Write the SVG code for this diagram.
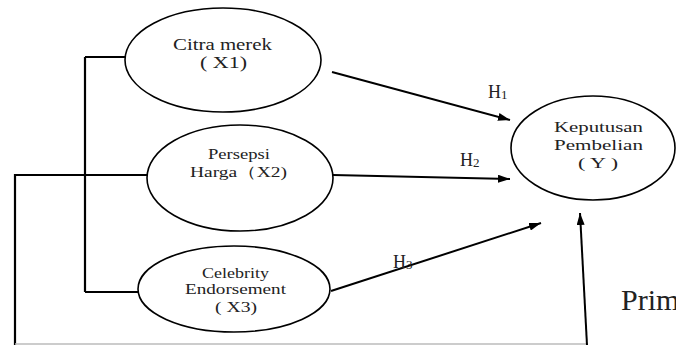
<svg xmlns="http://www.w3.org/2000/svg" width="676" height="345" viewBox="0 0 676 345">
<defs>
<marker id="ah" viewBox="0 0 12 8" refX="12" refY="4" markerWidth="12" markerHeight="8" markerUnits="userSpaceOnUse" orient="auto">
<path d="M0,0 L12,4 L0,8 Z" fill="#000"/>
</marker>
<style>
.el{fill:#fff;stroke:#000;stroke-width:1.6}
.ln{fill:none;stroke:#000;stroke-width:2.2}
.ar{fill:none;stroke:#000;stroke-width:2;marker-end:url(#ah)}
.t{font-family:"Liberation Serif","Times New Roman",serif;fill:#222;text-anchor:start}
</style>
</defs>
<rect width="676" height="345" fill="#fff"/>
<g id="connectors">
<path class="ln" d="M85,57 V292 M85,57 H126 M85,175 H147 M85,292 H139"/>
<path class="ln" d="M15,345 V175 H85"/>
<line x1="15" y1="344" x2="588" y2="344" stroke="#bbb" stroke-width="1.5"/>
<line class="ar" x1="332" y1="72" x2="510" y2="120"/>
<line class="ar" x1="333" y1="175" x2="510" y2="179"/>
<line class="ar" x1="331" y1="291" x2="541" y2="223"/>
<line class="ar" x1="587" y1="345" x2="580" y2="213"/>
</g>
<g id="x1">
<ellipse class="el" cx="223" cy="60" rx="98" ry="52"/>
<text class="t" x="173" y="50" font-size="17" textLength="99" lengthAdjust="spacingAndGlyphs">Citra merek</text>
<text class="t" x="200" y="68" font-size="17" textLength="47" lengthAdjust="spacingAndGlyphs">( X1)</text>
</g>
<g id="x2">
<ellipse class="el" cx="240" cy="178" rx="93" ry="53"/>
<text class="t" x="208" y="159" font-size="15" textLength="62" lengthAdjust="spacingAndGlyphs">Persepsi</text>
<text class="t" x="190" y="177" font-size="15" textLength="97" lengthAdjust="spacingAndGlyphs">Harga（X2)</text>
</g>
<g id="x3">
<ellipse class="el" cx="234" cy="289" rx="96" ry="43"/>
<text class="t" x="202" y="278" font-size="15" textLength="67" lengthAdjust="spacingAndGlyphs">Celebrity</text>
<text class="t" x="185" y="294" font-size="15" textLength="101" lengthAdjust="spacingAndGlyphs">Endorsement</text>
<text class="t" x="215" y="312" font-size="15" textLength="42" lengthAdjust="spacingAndGlyphs">( X3)</text>
</g>
<g id="y">
<ellipse class="el" cx="593" cy="148" rx="82" ry="52"/>
<text class="t" x="554" y="132" font-size="15" textLength="89" lengthAdjust="spacingAndGlyphs">Keputusan</text>
<text class="t" x="554" y="150" font-size="15" textLength="89" lengthAdjust="spacingAndGlyphs">Pembelian</text>
<text class="t" x="578" y="168" font-size="15" textLength="40" lengthAdjust="spacingAndGlyphs">( Y )</text>
</g>
<g id="labels">
<text class="t" x="488" y="98" font-size="18">H<tspan font-size="13" dy="1">1</tspan></text>
<text class="t" x="460" y="166" font-size="18">H<tspan font-size="13" dy="1">2</tspan></text>
<text class="t" x="393" y="268" font-size="18">H<tspan font-size="13" dy="1">3</tspan></text>
<text class="t" x="621" y="310" font-size="30" fill="#000">Prim</text>
</g>
</svg>
